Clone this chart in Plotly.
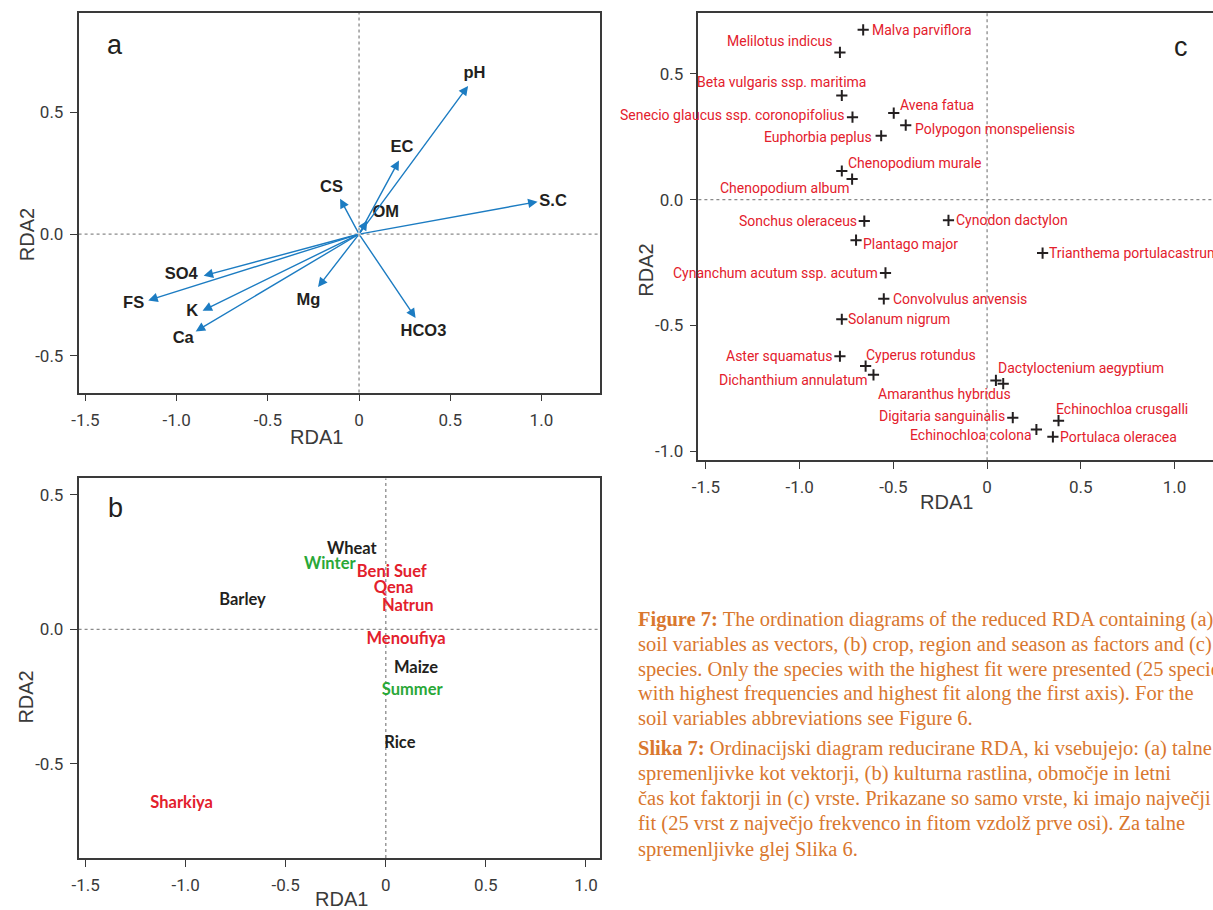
import plotly.graph_objects as go

W, H = 1213, 910

# ---------------- Panel a: soil variable vectors ----------------
a_vars = ["pH", "EC", "S.C", "CS", "OM", "SO4", "FS", "K", "Ca", "Mg", "HCO3"]
a_x = [0.598, 0.219, 0.979, -0.104, 0.045, -0.852, -1.156, -0.858, -0.896, -0.225, 0.310]
a_y = [0.608, 0.302, 0.133, 0.145, 0.055, -0.171, -0.272, -0.314, -0.399, -0.217, -0.344]
a_label_x = [0.633, 0.236, 1.064, -0.151, 0.147, -0.975, -1.236, -0.915, -0.964, -0.278, 0.353]
a_label_y = [0.657, 0.355, 0.134, 0.189, 0.086, -0.167, -0.286, -0.320, -0.430, -0.273, -0.403]

# ---------------- Panel b: factor centroids ----------------
b_names = ["Wheat", "Winter", "Beni Suef", "Qena", "Natrun", "Barley",
           "Menoufiya", "Maize", "Summer", "Rice", "Sharkiya"]
b_group = ["crop", "season", "region", "region", "region", "crop",
           "region", "crop", "season", "crop", "region"]
b_x = [-0.170, -0.280, 0.030, 0.039, 0.110, -0.716, 0.101, 0.151, 0.132, 0.070, -1.020]
b_y = [0.297, 0.239, 0.209, 0.152, 0.084, 0.105, -0.040, -0.149, -0.230, -0.425, -0.651]

# ---------------- Panel c: species ----------------
c_species = ["Malva parviflora", "Melilotus indicus", "Beta vulgaris ssp. maritima",
             "Senecio glaucus ssp. coronopifolius", "Avena fatua", "Polypogon monspeliensis",
             "Euphorbia peplus", "Chenopodium murale", "Chenopodium album",
             "Sonchus oleraceus", "Cynodon dactylon", "Plantago major",
             "Trianthema portulacastrum", "Cynanchum acutum ssp. acutum",
             "Convolvulus anvensis", "Solanum nigrum", "Aster squamatus",
             "Cyperus rotundus", "Dichanthium annulatum", "Dactyloctenium aegyptium",
             "Amaranthus hybridus", "Digitaria sanguinalis", "Echinochloa crusgalli",
             "Echinochloa colona", "Portulaca oleracea"]
c_x = [-0.661, -0.785, -0.775, -0.718, -0.498, -0.434, -0.565, -0.775, -0.720,
       -0.655, -0.206, -0.699, 0.296, -0.542, -0.551, -0.775, -0.785, -0.648,
       -0.606, 0.047, 0.086, 0.137, 0.381, 0.263, 0.351]
c_y = [0.675, 0.585, 0.414, 0.328, 0.344, 0.296, 0.254, 0.114, 0.082, -0.085,
       -0.082, -0.161, -0.212, -0.291, -0.394, -0.475, -0.622, -0.661, -0.696,
       -0.718, -0.731, -0.866, -0.878, -0.913, -0.942]

# label placement style (anchor side, pixel shifts)
c_label_style = {
    "Malva parviflora": ("left", 7, 0),
    "Melilotus indicus": ("right", -5, 11),
    "Beta vulgaris ssp. maritima": ("right", 26, 13),
    "Senecio glaucus ssp. coronopifolius": ("right", -6, 2),
    "Avena fatua": ("left", 4, 8),
    "Polypogon monspeliensis": ("left", 7, -4),
    "Euphorbia peplus": ("right", -7, -1),
    "Chenopodium murale": ("left", 4, 8),
    "Chenopodium album": ("right", -1, -9),
    "Sonchus oleraceus": ("right", -5, 0),
    "Cynodon dactylon": ("left", 6, 0),
    "Plantago major": ("left", 5, -4),
    "Trianthema portulacastrum": ("left", 4, 0),
    "Cynanchum acutum ssp. acutum": ("right", -5, 0),
    "Convolvulus anvensis": ("left", 7, 0),
    "Solanum nigrum": ("left", 4, 0),
    "Aster squamatus": ("right", -5, 0),
    "Cyperus rotundus": ("left", -2, 11),
    "Dichanthium annulatum": ("right", -3, -5),
    "Dactyloctenium aegyptium": ("left", 0, 12),
    "Amaranthus hybridus": ("right", 10, -10),
    "Digitaria sanguinalis": ("right", -6, 2),
    "Echinochloa crusgalli": ("left", -5, 12),
    "Echinochloa colona": ("right", -2, -6),
    "Portulaca oleracea": ("left", 5, 0),
}

tick_vals = [-1.5, -1.0, -0.5, 0, 0.5, 1.0]
tick_text = ["-1.5", "-1.0", "-0.5", "0", "0.5", "1.0"]
ytick_vals = [-1.0, -0.5, 0.0, 0.5]
ytick_text = ["-1.0", "-0.5", "0.0", "0.5"]

DARK = "#231f20"
AXC = "#3a3a3a"
BLUE = "#1c7cc2"
RED = "#e3202c"
GREEN = "#2aa838"
ORANGE = "#d9772e"
SANS = "Liberation Sans, Arial, sans-serif"

fig = go.Figure()

# Panel a labels
fig.add_trace(go.Scatter(x=a_label_x, y=a_label_y, text=a_vars, mode="text",
                         textfont=dict(family=SANS, size=16.5, color=DARK, weight="bold"),
                         xaxis="x", yaxis="y", showlegend=False, hoverinfo="skip"))

# Panel b labels
b_colors = {"crop": DARK, "season": GREEN, "region": RED}
fig.add_trace(go.Scatter(x=b_x, y=b_y, text=b_names, mode="text",
                         textfont=dict(family="Lato, Carlito, sans-serif", size=16.5,
                                       color=[b_colors[g] for g in b_group], weight="bold"),
                         xaxis="x2", yaxis="y2", showlegend=False, hoverinfo="skip"))

# Panel c markers
fig.add_trace(go.Scatter(x=c_x, y=c_y, mode="markers",
                         marker=dict(symbol="cross-thin", size=8,
                                     line=dict(width=2, color=DARK), color=DARK),
                         xaxis="x3", yaxis="y3", showlegend=False, hoverinfo="skip"))

annotations = []
# Panel a arrows
for vx, vy in zip(a_x, a_y):
    annotations.append(dict(x=vx, y=vy, ax=0, ay=0, xref="x", yref="y",
                            axref="x", ayref="y", text="", showarrow=True,
                            arrowhead=2, arrowsize=1.35, arrowwidth=1.4,
                            arrowcolor=BLUE, standoff=0, startstandoff=0))

# Panel c labels
for name, px, py in zip(c_species, c_x, c_y):
    side, dx, dy = c_label_style[name]
    annotations.append(dict(x=px, y=py, xref="x3", yref="y3", text=name,
                            showarrow=False, xanchor=side, yanchor="middle",
                            xshift=dx, yshift=dy,
                            font=dict(family="Roboto, sans-serif", size=14, color=RED)))

# panel letters
annotations.append(dict(x=-1.336, y=0.776, xref="x", yref="y", text="a", showarrow=False,
                        font=dict(family=SANS, size=27, color=DARK)))
annotations.append(dict(x=-1.351, y=0.452, xref="x2", yref="y2", text="b", showarrow=False,
                        font=dict(family=SANS, size=27, color=DARK)))
annotations.append(dict(x=1.032, y=0.608, xref="x3", yref="y3", text="c", showarrow=False,
                        font=dict(family=SANS, size=27, color=DARK)))

# axis titles
def title(x, y, text, angle=0):
    annotations.append(dict(x=x / W, y=1 - y / H, xref="paper", yref="paper", text=text,
                            showarrow=False, textangle=angle, xanchor="center", yanchor="middle",
                            font=dict(family=SANS, size=20, color=AXC)))

title(311.6, 437, "RDA1")
title(336, 900, "RDA1")
title(944.6, 503, "RDA1")
title(19.5, 235, "RDA2", -90)
title(19.5, 698, "RDA2", -90)
title(642.7, 270, "RDA2", -90)

# caption
cap_lines = [
    ("<b>Figure 7:</b> The ordination diagrams of the reduced RDA containing (a)", 620),
    ("soil variables as vectors, (b) crop, region and season as factors and (c)", 645),
    ("species. Only the species with the highest fit were presented (25 species", 670),
    ("with highest frequencies and highest fit along the first axis). For the", 694),
    ("soil variables abbreviations see Figure 6.", 719),
    ("<b>Slika 7:</b> Ordinacijski diagram reducirane RDA, ki vsebujejo: (a) talne", 749),
    ("spremenljivke kot vektorji, (b) kulturna rastlina, območje in letni", 774),
    ("čas kot faktorji in (c) vrste. Prikazane so samo vrste, ki imajo največji", 799),
    ("fit (25 vrst z največjo frekvenco in fitom vzdolž prve osi). Za talne", 824),
    ("spremenljivke glej Slika 6.", 850),
]
for txt, yy in cap_lines:
    annotations.append(dict(x=633 / W, y=1 - yy / H, xref="paper", yref="paper", text=txt,
                            showarrow=False, xanchor="left", yanchor="middle",
                            font=dict(family="Liberation Serif, serif", size=20.5, color=ORANGE)))

# zero lines
shapes = []
for xa, ya in [("x", "y"), ("x2", "y2"), ("x3", "y3")]:
    shapes.append(dict(type="line", xref=xa, yref=ya + " domain", x0=0, x1=0, y0=0, y1=1,
                       line=dict(color="#8a8a8a", width=1.3, dash="3px,3px"), layer="below"))
    shapes.append(dict(type="line", xref=xa + " domain", yref=ya, x0=0, x1=1, y0=0, y1=0,
                       line=dict(color="#8a8a8a", width=1.3, dash="3px,3px"), layer="below"))

def xax(domain, rng, anchor, mirror=True):
    return dict(domain=domain, range=rng, anchor=anchor, showgrid=False, zeroline=False,
                showline=True, linecolor=AXC, linewidth=1.5, mirror=mirror,
                ticks="outside", ticklen=7, tickwidth=1.3, tickcolor=AXC,
                tickvals=tick_vals, ticktext=tick_text, ticklabelstandoff=4,
                tickfont=dict(family="Roboto, sans-serif", size=17, color=AXC))

def yax(domain, rng, anchor, mirror=True):
    return dict(domain=domain, range=rng, anchor=anchor, showgrid=False, zeroline=False,
                showline=True, linecolor=AXC, linewidth=1.5, mirror=mirror,
                ticks="outside", ticklen=7, tickwidth=1.3, tickcolor=AXC,
                tickvals=ytick_vals, ticktext=ytick_text, ticklabelstandoff=3,
                tickfont=dict(family="Roboto, sans-serif", size=17, color=AXC))

fig.update_layout(
    width=W, height=H, margin=dict(l=0, r=0, t=0, b=0),
    paper_bgcolor="white", plot_bgcolor="white",
    xaxis=xax([72 / W, 596 / W], [-1.538, 1.319], "y"),
    yaxis=yax([1 - 393 / H, 1 - 13 / H], [-0.650, 0.907], "x"),
    xaxis2=xax([72 / W, 596 / W], [-1.535, 1.068], "y2"),
    yaxis2=yax([1 - 859 / H, 1 - 479 / H], [-0.851, 0.561], "x2"),
    xaxis3=xax([695.4 / W, 1.0], [-1.54, 1.205], "y3", mirror=True),
    yaxis3=yax([1 - 460.7 / H, 1 - 12.7 / H], [-1.035, 0.743], "x3", mirror=False),
    annotations=annotations, shapes=shapes,
)

fig.write_html("out.html", config={"displayModeBar": False},
               post_script="document.body.style.margin='0px';document.body.style.overflow='hidden';")
